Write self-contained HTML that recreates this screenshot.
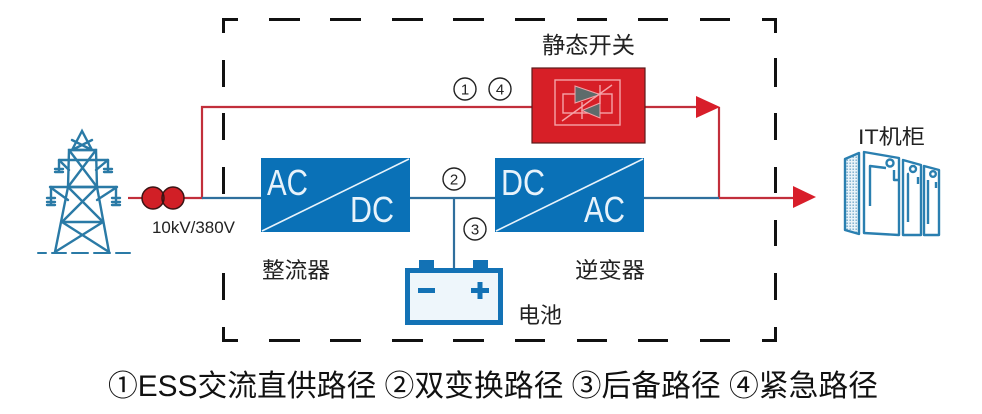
<!DOCTYPE html>
<html><head><meta charset="utf-8"><style>
html,body{margin:0;padding:0;background:#fff;}
svg{display:block;}
</style></head><body>
<svg width="982" height="414" viewBox="0 0 982 414" xmlns="http://www.w3.org/2000/svg">
<rect width="982" height="414" fill="#fff"/>
<!-- dashed box -->
<g fill="#111">
  <rect x="222" y="18" width="16" height="3"/><rect x="222" y="18" width="3" height="15"/>
  <rect x="269" y="18" width="31" height="3"/><rect x="330" y="18" width="31" height="3"/>
  <rect x="392" y="18" width="31" height="3"/><rect x="453" y="18" width="31" height="3"/>
  <rect x="515" y="18" width="30" height="3"/><rect x="577" y="18" width="30" height="3"/>
  <rect x="638" y="18" width="30" height="3"/><rect x="700" y="18" width="30" height="3"/>
  <rect x="762" y="18" width="15" height="3"/><rect x="774" y="18" width="3" height="15"/>
  <rect x="222" y="339" width="16" height="3"/><rect x="222" y="327" width="3" height="15"/>
  <rect x="269" y="339" width="31" height="3"/><rect x="330" y="339" width="31" height="3"/>
  <rect x="392" y="339" width="31" height="3"/><rect x="453" y="339" width="31" height="3"/>
  <rect x="515" y="339" width="30" height="3"/><rect x="577" y="339" width="30" height="3"/>
  <rect x="638" y="339" width="30" height="3"/><rect x="700" y="339" width="30" height="3"/>
  <rect x="762" y="339" width="15" height="3"/><rect x="774" y="327" width="3" height="15"/>
  <rect x="222" y="60" width="3" height="27"/><rect x="222" y="113" width="3" height="27"/>
  <rect x="222" y="167" width="3" height="27"/><rect x="222" y="273" width="3" height="27"/>
  <rect x="774" y="58" width="3" height="29"/><rect x="774" y="113" width="3" height="27"/>
  <rect x="774" y="167" width="3" height="26"/><rect x="774" y="220" width="3" height="26"/>
  <rect x="774" y="273" width="3" height="27"/>
</g>

<!-- tower -->
<g stroke="#2a7aa6" stroke-width="2.4" fill="none" stroke-linecap="round">
  <path d="M82 131 L72 150 L92 150 Z M72 150 L92 140 M92 150 L72 140"/>
  <path d="M69 150 L96 150 L97 187 L68 187 Z"/>
  <path d="M69 150 L97 187 M96 150 L68 187"/>
  <path d="M59 160 L108 160 M59 160 L69 170 M108 160 L96 170"/>
  <path d="M59 160 L59 172 M55 169 L63 169 M55 172 L63 172"/>
  <path d="M108 160 L108 172 M104 169 L112 169 M104 172 L112 172"/>
  <path d="M50 187 L117 187 M50 187 L68 200 M117 187 L97 200"/>
  <path d="M51 187 L51 205 M47 198 L55 198 M47 202 L55 202 M47 205 L55 205"/>
  <path d="M116 187 L116 205 M112 198 L120 198 M112 202 L120 202 M112 205 L120 205"/>
  <path d="M68 187 L55 252 M97 187 L109 252"/>
  <path d="M68 187 L103 222 M97 187 L62 222 M62 222 L103 222"/>
  <path d="M62 222 L109 252 M103 222 L55 252"/>
  <path d="M38 253 L46 253 M52 253 L66 253 M72 253 L88 253 M94 253 L110 253 M116 253 L130 253" stroke-width="2"/>
</g>

<!-- lines -->
<g fill="none" stroke-width="2.2">
  <path d="M128 198 L142 198" stroke="#c22f3b"/>
  <path d="M184 198 L202 198 L202 107 L532 107" stroke="#c22f3b"/>
  <path d="M645 107 L700 107" stroke="#c22f3b"/>
  <path d="M719 107 L719 198 L795 198" stroke="#c22f3b"/>
  <path d="M202 198 L261 198 M410 198 L495 198 M644 198 L719 198 M454 198 L454 268" stroke="#2f6f9d"/>
</g>
<path d="M696 96 L720 107 L696 118 Z" fill="#d81e2a"/>
<path d="M793 186 L816 197 L793 208 Z" fill="#d81e2a"/>

<!-- transformer -->
<circle cx="153" cy="198" r="11" fill="#d11f26"/>
<circle cx="173" cy="198" r="11" fill="#d11f26"/>
<circle cx="153" cy="198" r="11" fill="none" stroke="#3a1414" stroke-width="1.5"/>
<circle cx="173" cy="198" r="11" fill="none" stroke="#3a1414" stroke-width="1.5"/>
<text x="152" y="233" font-family="Liberation Sans, sans-serif" font-size="17" fill="#222" textLength="83" lengthAdjust="spacingAndGlyphs">10kV/380V</text>

<!-- static switch -->
<rect x="532" y="68" width="113" height="75" fill="#d71f27" stroke="#5a1a1a" stroke-width="1.2"/>
<g stroke="#f5a3a8" stroke-width="1.4" fill="none">
  <rect x="555" y="80" width="65" height="45"/>
  <rect x="563" y="94" width="49" height="19"/>
</g>
<path d="M575 86 L600 94.5 L575 103 Z" fill="#5e6b6b" stroke="#f5a3a8" stroke-width="1"/>
<path d="M600 103 L582 110.5 L600 118 Z" fill="#5e6b6b" stroke="#f5a3a8" stroke-width="1"/>
<g stroke="#f5a3a8" stroke-width="1.4">
  <path d="M600 85 L600 104 M582 102 L582 119 M562 121 L612 85"/>
</g>
<text x="542" y="53" font-family="Noto Sans CJK SC, sans-serif" font-size="23" fill="#222" textLength="93" lengthAdjust="spacingAndGlyphs">静态开关</text>

<!-- converters -->
<rect x="261" y="158" width="149" height="74" fill="#0a71b7"/>
<path d="M262 231 L409 159" stroke="#e8f3fb" stroke-width="1.6"/>
<text x="267" y="195" font-family="Liberation Sans, sans-serif" font-size="36" fill="#e8f3fb" textLength="41" lengthAdjust="spacingAndGlyphs">AC</text>
<text x="350" y="222" font-family="Liberation Sans, sans-serif" font-size="36" fill="#e8f3fb" textLength="44" lengthAdjust="spacingAndGlyphs">DC</text>
<rect x="495" y="158" width="149" height="74" fill="#0a71b7"/>
<path d="M496 231 L643 159" stroke="#e8f3fb" stroke-width="1.6"/>
<text x="501" y="195" font-family="Liberation Sans, sans-serif" font-size="36" fill="#e8f3fb" textLength="44" lengthAdjust="spacingAndGlyphs">DC</text>
<text x="584" y="222" font-family="Liberation Sans, sans-serif" font-size="36" fill="#e8f3fb" textLength="41" lengthAdjust="spacingAndGlyphs">AC</text>
<text x="262" y="278" font-family="Noto Sans CJK SC, sans-serif" font-size="22" fill="#222" textLength="68" lengthAdjust="spacingAndGlyphs">整流器</text>
<text x="575" y="278" font-family="Noto Sans CJK SC, sans-serif" font-size="22" fill="#222" textLength="70" lengthAdjust="spacingAndGlyphs">逆变器</text>

<!-- circled numbers -->
<g fill="none" stroke="#222" stroke-width="1.4">
  <circle cx="465" cy="89" r="11"/><circle cx="500" cy="89" r="11"/>
  <circle cx="454" cy="179" r="11"/><circle cx="475" cy="229" r="11"/>
</g>
<g font-family="Liberation Sans, sans-serif" font-size="15" fill="#222" text-anchor="middle">
  <text x="465" y="94.5">1</text><text x="500" y="94.5">4</text>
  <text x="454" y="184.5">2</text><text x="475" y="234.5">3</text>
</g>

<!-- battery -->
<rect x="419" y="260" width="15" height="9" fill="#1372b5"/>
<rect x="473" y="260" width="15" height="9" fill="#1372b5"/>
<rect x="407.5" y="270.5" width="93" height="52" fill="#eef6fb" stroke="#1372b5" stroke-width="5"/>
<rect x="418" y="288" width="17" height="5" fill="#1372b5"/>
<rect x="471" y="288" width="18" height="5" fill="#1372b5"/>
<rect x="477.5" y="282" width="5" height="17" fill="#1372b5"/>
<text x="518" y="323" font-family="Noto Sans CJK SC, sans-serif" font-size="22" fill="#222" textLength="44" lengthAdjust="spacingAndGlyphs">电池</text>

<!-- IT cabinet -->
<text x="858" y="144" font-family="Liberation Sans, Noto Sans CJK SC, sans-serif" font-size="21" fill="#222" textLength="67" lengthAdjust="spacingAndGlyphs">IT机柜</text>
<defs>
  <pattern id="dots" width="3" height="3" patternUnits="userSpaceOnUse">
    <rect width="3" height="3" fill="#e9f3f9"/><rect x="0.5" y="0.5" width="1.4" height="1.4" fill="#6fa6c8"/>
  </pattern>
</defs>
<g stroke="#2a7fb0" stroke-width="2.4" fill="none" stroke-linejoin="round">
  <path d="M845 159 L859 153 L859 234 L845 230 Z" fill="url(#dots)"/>
  <path d="M864 152 L899 158 L899 235 L864 233 Z"/>
  <path d="M870 206 L870 166 L886 168 M894 170 L894 180 L899 180"/>
  <circle cx="890" cy="163" r="3.5"/>
  <path d="M903 160 L921 165 L921 235 L903 235 Z"/>
  <path d="M908 222 L908 174 L909 174 M918 177 L918 184"/>
  <circle cx="913" cy="169" r="3"/>
  <path d="M924 166 L939 170 L939 235 L924 235 Z"/>
  <path d="M928 224 L928 180 M936 182 L936 188"/>
  <circle cx="933" cy="174" r="2.8"/>
</g>

<!-- legend -->
<text x="108" y="396" font-family="Liberation Sans, Noto Sans CJK SC, sans-serif" font-size="30" fill="#111" textLength="770" lengthAdjust="spacingAndGlyphs">①ESS交流直供路径 ②双变换路径 ③后备路径 ④紧急路径</text>
</svg>
</body></html>
